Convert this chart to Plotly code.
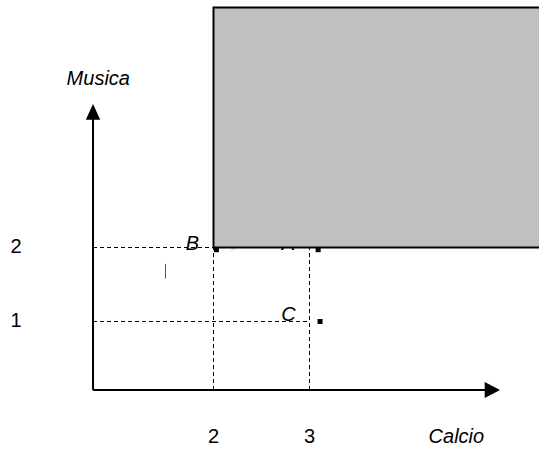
import plotly.graph_objects as go

# values (data units: Calcio on x, Musica on y)
x_ticks = [2, 3]
y_ticks = [1, 2]
tick_text_x = ["2", "3"]
tick_text_y = ["1", "2"]

point_names = ["B", "A", "C"]
point_x = [2.03, 3.09, 3.11]
point_y = [1.97, 1.97, 1.0]
label_x = [1.78, 2.78, 2.78]
label_y = [2.03, 2.03, 1.08]

origin_x, origin_y = 0.745, 0.074  # where the two axis arrows meet
x_end, y_end = 4.985, 3.94         # arrow tips
box_top = 5.243                    # grey region: Calcio >= 2, Musica >= 2

font = dict(family="Liberation Sans, Arial, sans-serif", size=20, color="black")

fig = go.Figure()

# points
fig.add_trace(go.Scatter(x=point_x, y=point_y, mode="markers",
                         marker=dict(symbol="square", size=5, color="black"),
                         hoverinfo="skip"))
# point labels
fig.add_trace(go.Scatter(x=label_x, y=label_y, mode="text",
                         text=["<i>%s</i>" % n for n in point_names],
                         textfont=font, textposition="middle center", hoverinfo="skip"))
# tick labels
fig.add_trace(go.Scatter(x=x_ticks, y=[-0.58] * len(x_ticks), mode="text",
                         text=tick_text_x, textfont=font, textposition="middle center"))
fig.add_trace(go.Scatter(x=[-0.057] * len(y_ticks), y=y_ticks, mode="text",
                         text=tick_text_y, textfont=font, textposition="middle center"))
# axis titles
fig.add_trace(go.Scatter(x=[4.53, 0.80], y=[-0.58, 4.26], mode="text",
                         text=["<i>Calcio</i>", "<i>Musica</i>"], textfont=font,
                         textposition="middle center"))

line = dict(color="black", width=1, dash="4px,3px")
shapes = [
    # dashed guides
    dict(type="line", x0=origin_x, x1=2, y0=2, y1=2, line=line),
    dict(type="line", x0=origin_x, x1=3, y0=1, y1=1, line=line),
    dict(type="line", x0=2, x1=2, y0=origin_y, y1=2, line=line),
    dict(type="line", x0=3, x1=3, y0=origin_y, y1=2, line=line),
    # axes
    dict(type="line", x0=origin_x, x1=origin_x, y0=origin_y, y1=y_end - 0.2,
         line=dict(color="black", width=2)),
    dict(type="line", x0=origin_x, x1=x_end - 0.15, y0=origin_y, y1=origin_y,
         line=dict(color="black", width=2)),
    dict(type="path", fillcolor="black", line=dict(width=0),
         path=f"M {origin_x - 0.075} {y_end - 0.215} L {origin_x + 0.075} {y_end - 0.215} "
              f"L {origin_x} {y_end} Z"),
    dict(type="path", fillcolor="black", line=dict(width=0),
         path=f"M {x_end - 0.16} {origin_y - 0.108} L {x_end - 0.16} {origin_y + 0.108} "
              f"L {x_end} {origin_y} Z"),
    # stray marks
    dict(type="line", x0=1.5, x1=1.5, y0=1.58, y1=1.78,
         line=dict(color="#555555", width=1)),
    dict(type="line", x0=2.18, x1=2.23, y0=1.96, y1=1.99,
         line=dict(color="#cccccc", width=1)),
    # grey region, runs off the right edge
    dict(type="rect", x0=2, x1=7, y0=2, y1=box_top, fillcolor="#c0c0c0",
         line=dict(color="black", width=2), layer="above"),
]

fig.update_layout(
    width=539, height=450,
    margin=dict(l=0, r=0, t=0, b=0),
    paper_bgcolor="white", plot_bgcolor="white",
    showlegend=False,
    shapes=shapes,
    xaxis=dict(range=[-0.22396, 5.390625], visible=False, fixedrange=True),
    yaxis=dict(range=[-0.736486, 5.34459], visible=False, fixedrange=True),
)

# drop the page's default body margin so the figure fills the window
fig.write_html("out.html", config={"displayModeBar": False},
               post_script="document.body.style.margin='0';"
                           "document.body.style.overflow='hidden';")
